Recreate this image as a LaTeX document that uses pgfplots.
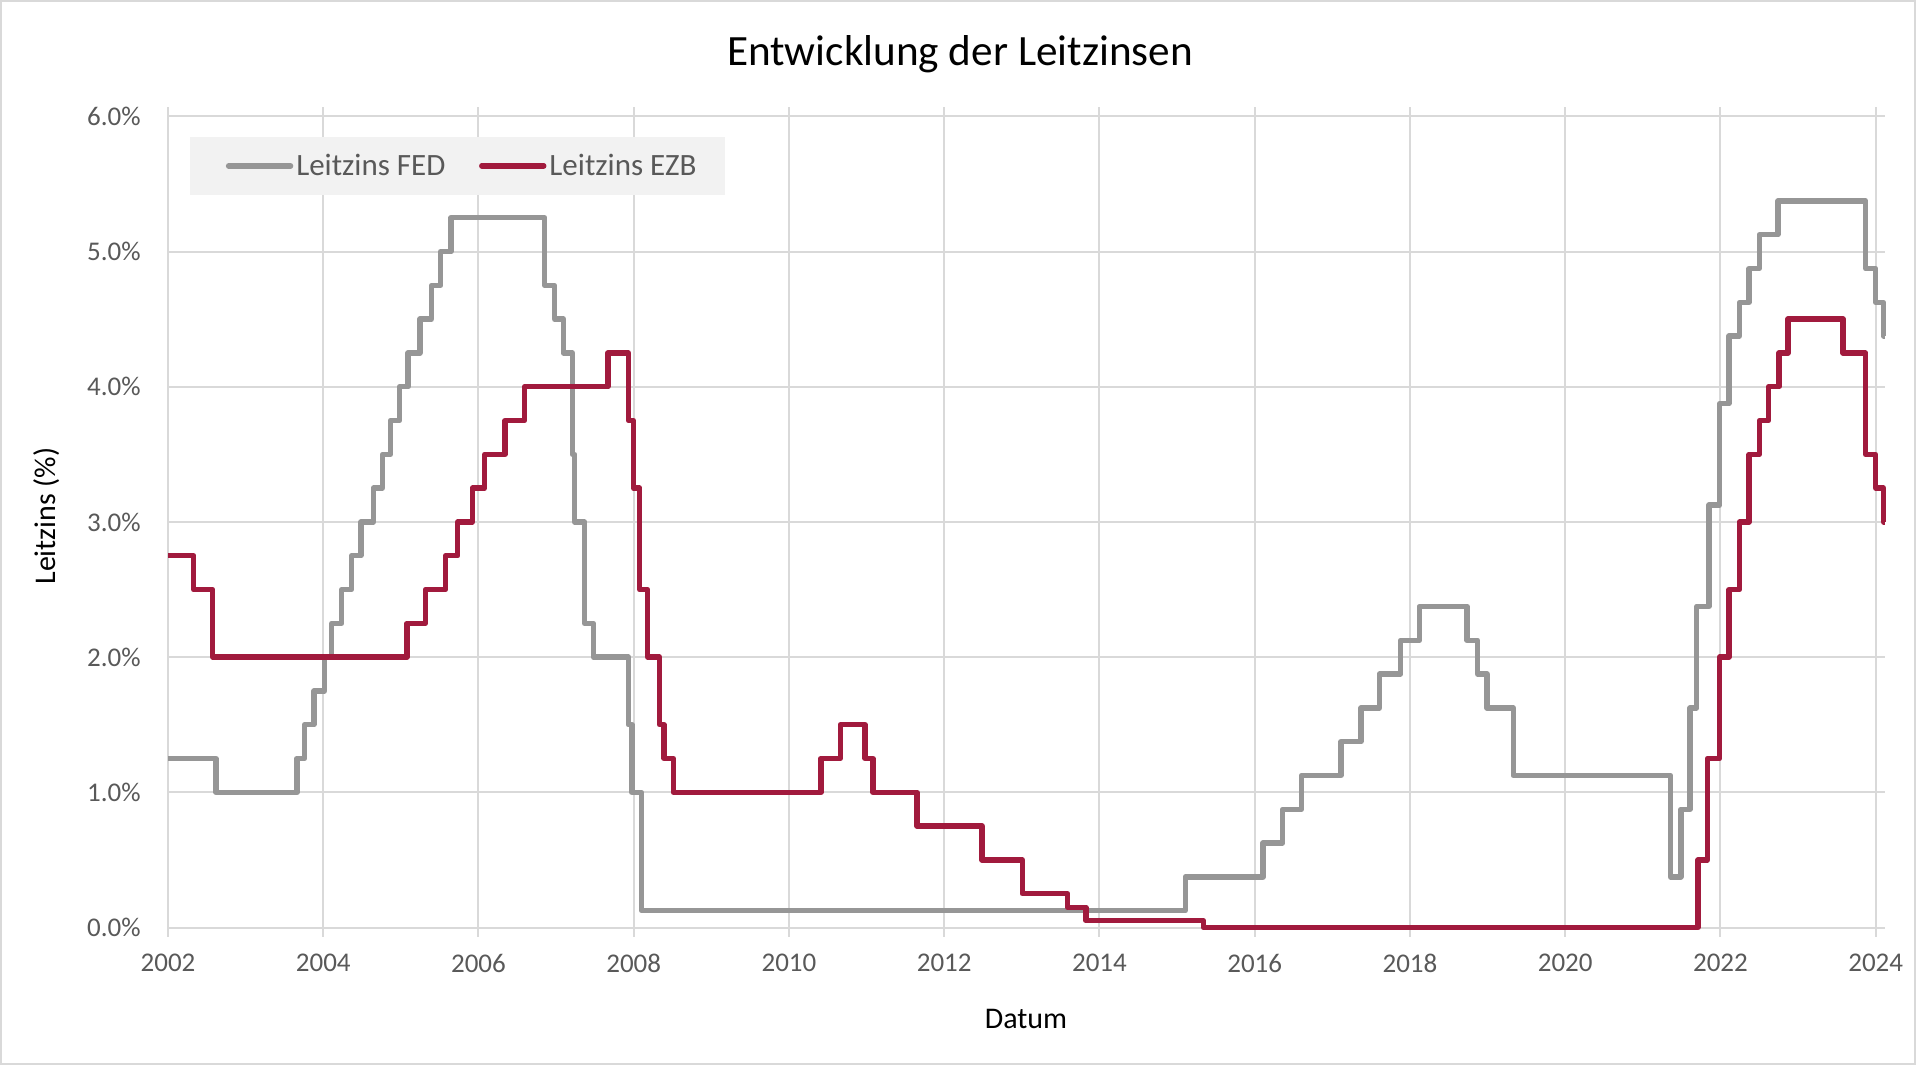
\documentclass[border=0pt]{standalone}
\usepackage{fontspec}
\setmainfont{Carlito}
\usepackage{pgfplots}
\pgfplotsset{compat=1.18}
\definecolor{fedgray}{HTML}{969696}
\definecolor{ezbred}{HTML}{A11A3D}
\definecolor{gridgray}{HTML}{D9D9D9}
\definecolor{labelgray}{HTML}{595959}
\definecolor{legfill}{HTML}{F2F2F2}
\begin{document}
\begin{tikzpicture}
\path[use as bounding box] (0,0) rectangle (960pt,533.5pt);
\draw[gridgray, line width=1pt] (0.5pt,1.5pt) rectangle (957.5pt,533pt);
\node[font=\fontsize{21.6}{26}\selectfont, anchor=base] at (480pt,500.8pt) {Entwicklung der Leitzinsen};
\node[font=\fontsize{15}{18}\selectfont, anchor=base] at (513pt,19.5pt) {Datum};
\node[font=\fontsize{15}{18}\selectfont, anchor=base, rotate=90] at (27.5pt,275.5pt) {Leitzins (\%)};
\begin{axis}[
  at={(84pt,69.75pt)}, anchor=south west,
  scale only axis, width=858.5pt, height=405.55pt,
  xmin=2002, xmax=2024.12, ymin=0, ymax=6,
  xtick={2002,2004,...,2024}, ytick={0,1,...,6},
  grid=major, major grid style={gridgray, line width=1pt},
  axis line style={draw=none},
  tick align=outside, major tick length=4.5pt,
  xtick style={gridgray, line width=1pt},
  ytick style={draw=none},
  clip=false,
  /pgf/number format/assume math mode=true,
  /pgf/number format/1000 sep={},
  xticklabel style={font=\fontsize{13.5}{16}\selectfont, text=labelgray, inner sep=0pt, yshift=-8.75pt},
  yticklabel style={font=\fontsize{13.5}{16}\selectfont, text=labelgray, inner sep=0pt, anchor=east, xshift=-9pt},
  yticklabel={\pgfmathprintnumber[fixed,fixed zerofill,precision=1]{\tick}\%},
  legend columns=2,
  legend image code/.code={\path (-5pt,0pt); \draw[line width=2.7pt, line cap=round] (0pt,0pt) -- (31pt,0pt);},
  legend style={at={(0.0128,0.9752)}, anchor=north west, fill=legfill, draw=none,
    inner xsep=12.75pt, inner ysep=6.4pt,
    font=\fontsize{15.5}{18}\selectfont, text=labelgray,
    nodes={inner xsep=1.5pt, inner ysep=2pt},
    /tikz/every even column/.append style={column sep=10.3pt}},
]
\addplot[const plot, fedgray, line width=2.7pt, line join=round] coordinates {
(2002.0,1.25) (2002.62,1.0) (2003.66,1.25) (2003.76,1.5) (2003.88,1.75)
(2004.014,2.0) (2004.11,2.25) (2004.238,2.5) (2004.367,2.75) (2004.486,3.0)
(2004.644,3.25) (2004.762,3.5) (2004.865,3.75) (2004.983,4.0) (2005.094,4.25)
(2005.244,4.5) (2005.394,4.75) (2005.512,5.0) (2005.646,5.25) (2006.854,4.75)
(2006.98,4.5) (2007.094,4.25) (2007.21,3.5) (2007.24,3.0) (2007.367,2.25)
(2007.48,2.0) (2007.93,1.5) (2007.975,1.0) (2008.10,0.125) (2015.105,0.375)
(2016.107,0.625) (2016.36,0.875) (2016.6,1.125) (2017.11,1.375) (2017.37,1.625)
(2017.607,1.875) (2017.88,2.125) (2018.12,2.375) (2018.736,2.125) (2018.87,1.875)
(2018.99,1.625) (2019.33,1.125) (2021.356,0.375) (2021.49,0.875) (2021.61,1.625)
(2021.695,2.375) (2021.85,3.125) (2021.99,3.875) (2022.11,4.375) (2022.245,4.625)
(2022.37,4.875) (2022.5,5.125) (2022.74,5.375) (2023.87,4.875) (2024.0,4.625)
(2024.1,4.375) (2024.12,4.375)
};
\addlegendentry{Leitzins FED}
\addplot[const plot, ezbred, line width=2.7pt, line join=round] coordinates {
(2002.0,2.75) (2002.33,2.5) (2002.576,2.0) (2005.078,2.25) (2005.315,2.5)
(2005.575,2.75) (2005.733,3.0) (2005.92,3.25) (2006.08,3.5) (2006.34,3.75)
(2006.594,4.0) (2007.666,4.25) (2007.93,3.75) (2007.996,3.25) (2008.077,2.5)
(2008.18,2.0) (2008.33,1.5) (2008.39,1.25) (2008.51,1.0) (2010.41,1.25)
(2010.66,1.5) (2010.98,1.25) (2011.08,1.0) (2011.65,0.75) (2012.485,0.5)
(2013.006,0.25) (2013.59,0.15) (2013.826,0.05) (2015.34,0.0) (2021.71,0.5)
(2021.83,1.25) (2021.99,2.0) (2022.11,2.5) (2022.245,3.0) (2022.37,3.5)
(2022.5,3.75) (2022.62,4.0) (2022.755,4.25) (2022.87,4.5) (2023.58,4.25)
(2023.87,3.5) (2024.0,3.25) (2024.1,3.0) (2024.12,3.0)
};
\addlegendentry{Leitzins EZB}
\end{axis}
\end{tikzpicture}
\end{document}
